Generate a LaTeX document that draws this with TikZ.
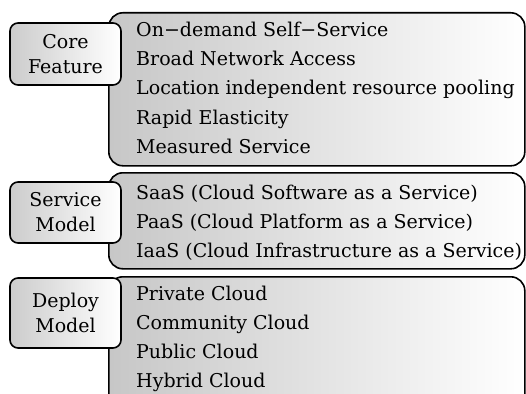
\documentclass[tikz,border=0pt]{standalone}
\usepackage{fontspec}
\setmainfont{DejaVu Serif}
\usetikzlibrary{positioning}

\tikzset{
  groupbox/.style={draw, line width=1.6pt, rounded corners=14pt,
    left color=black!22, right color=white,
    anchor=north west, inner sep=0pt},
  titlebox/.style={draw, line width=1.6pt, rounded corners=8pt,
    left color=black!20, right color=white,
    minimum width=111pt, align=center, inner sep=0pt,
    font=\fontsize{19}{25}\selectfont},
  item/.style={anchor=base west, inner sep=0pt,
    font=\fontsize{19}{22}\selectfont}
}

\begin{document}
\begin{tikzpicture}[x=1pt,y=-1pt]
\clip (0,0) rectangle (526,393);
\fill[white] (0,0) rectangle (526,393);

% group boxes
\node[groupbox, minimum width=416pt, minimum height=153pt] (corebox) at (108,12) {};
\node[groupbox, minimum width=416pt, minimum height=96pt] (servbox) at (108,172) {};
\node[groupbox, minimum width=416pt, minimum height=140pt] (depbox) at (108,276) {};

% titles
\node[titlebox, minimum height=62pt] (core) at (65.5,54) {Core\\Feature};
\node[titlebox, minimum height=61pt] (serv) at (65.5,212.5) {Service\\Model};
\node[titlebox, minimum height=70pt] (dep) at (65.5,313) {Deploy\\Model};

% items
\foreach \i/\y/\t in {1/37/On−demand Self−Service,
                      2/66/Broad Network Access,
                      3/95/Location independent resource pooling,
                      4/124/Rapid Elasticity,
                      5/153/Measured Service}
  \node[item] (core\i) at (136,\y) {\t};

\foreach \i/\y/\t in {1/199/SaaS (Cloud Software as a Service),
                      2/228/PaaS (Cloud Platform as a Service),
                      3/257/IaaS (Cloud Infrastructure as a Service)}
  \node[item] (serv\i) at (136,\y) {\t};

\foreach \i/\y/\t in {1/300/Private Cloud,
                      2/329/Community Cloud,
                      3/358/Public Cloud,
                      4/387/Hybrid Cloud}
  \node[item] (dep\i) at (136,\y) {\t};
\end{tikzpicture}
\end{document}
